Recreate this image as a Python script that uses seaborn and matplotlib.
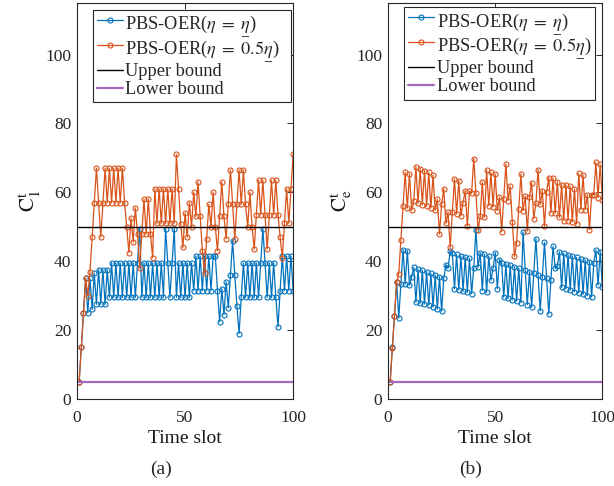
import numpy as np
import pandas as pd
import matplotlib
matplotlib.use("Agg")
import matplotlib.pyplot as plt
from matplotlib.font_manager import FontProperties
import seaborn as sns

# ---------------- data ----------------
time_slots = list(range(1, 101))

a_blue = [5, 15, 25, 35, 25, 35, 26, 36.5, 27.5, 37.5,
          27.5, 37.5, 27.5, 37.5, 29.5, 39.5, 29.5, 39.5, 29.5, 39.5,
          29.5, 39.5, 29.5, 39.5, 29.5, 39.5, 29.5, 39.5, 49.5, 29.5,
          39.5, 29.5, 39.5, 29.5, 39.5, 29.5, 39.5, 29.5, 39.5, 29.5,
          49.5, 39.5, 29.5, 39.5, 49.5, 29.5, 39.5, 29.5, 39.5, 29.5,
          39.5, 29.5, 39.5, 31.5, 41.5, 31.5, 41.5, 31.5, 41.5, 31.5,
          41.5, 31.5, 41.5, 41.5, 31.5, 22.5, 32, 24.5, 34, 26.5,
          36, 46, 36, 27, 19, 29.5, 39.5, 29.5, 39.5, 29.5,
          39.5, 29.5, 39.5, 29.5, 39.5, 49.5, 39.5, 29.5, 39.5, 29.5,
          39.5, 29.5, 21, 31.5, 41.5, 31.5, 41.5, 31.5, 41.5, 31.5]

a_orange = [5, 15, 25, 35, 30, 37, 47, 57, 67, 57,
            47, 57, 67, 57, 67, 57, 67, 57, 67, 57,
            67, 57, 50, 42.5, 52.5, 45.5, 55.5, 48, 38, 48,
            58, 48, 58, 48, 41, 61, 51, 61, 51, 61,
            51, 61, 51, 61, 51, 71, 61, 50.7, 44, 54,
            47, 57, 50, 60, 53, 63, 53, 43, 36.5, 46.5,
            56.5, 50, 60, 50, 43, 53, 63, 53, 46.5, 56.5,
            66.5, 56.5, 46.5, 56.5, 66.5, 56.5, 66.5, 56.5, 50, 60,
            50, 43.5, 53.5, 63.5, 53.5, 63.5, 53.5, 43.5, 53.5, 63.5,
            53.5, 63.5, 53.5, 47, 41, 51, 61, 51, 61, 71]

b_blue = [5, 15, 24, 34, 23.5, 33.5, 43.4, 33.4, 43, 33,
          35.5, 38.2, 28.1, 37.7, 27.8, 37.4, 27.6, 37, 27.2, 36.5,
          26.7, 36, 26.1, 35.5, 25.5, 35, 39, 38, 43, 42.5,
          32, 42, 31.7, 41.6, 31.3, 41.2, 31, 40.8, 30.6, 38,
          49.2, 38.3, 42.5, 31.5, 42, 31, 41.5, 34.5, 38, 42.5,
          32, 40.5, 39.5, 29.5, 39.3, 29.2, 38.9, 28.8, 38.4, 28.4,
          38, 28, 48.5, 37.5, 27.4, 37, 26.6, 36.5, 46.5, 36,
          25.6, 35.5, 45.5, 35, 24.7, 34.6, 44.3, 38, 38.5, 42.7,
          32.4, 42.3, 32, 41.9, 31.6, 41.5, 31.2, 41.1, 30.8, 40.7,
          30.4, 40.3, 30, 39.9, 29.6, 39.5, 43.2, 33, 42.8, 32.5]

b_orange = [5, 14.8, 24.2, 33.9, 36.4, 46.3, 56, 65.8, 55.4, 65.3,
            54.8, 57.4, 67.4, 56.8, 66.9, 56.4, 66.3, 55.9, 65.8, 55.4,
            65, 54.8, 58, 47.9, 56.5, 61, 51, 54.2, 44, 54.2,
            63.9, 53.7, 63.4, 53.2, 57, 60.5, 50.2, 60.3, 59.8, 69.8,
            59.8, 49, 53, 63, 52.8, 66.5, 56.1, 65.8, 55.8, 65.3,
            54.7, 58.6, 48.6, 58.2, 68.2, 57.6, 61.7, 51.4, 41.4, 45.4,
            55.3, 65.3, 54.7, 58.9, 48.8, 58.6, 62.8, 52.4, 56.8, 66.6,
            56.5, 60.5, 50.2, 60.1, 64.3, 54, 64.1, 54, 63.1, 52.7,
            62.2, 51.8, 62.2, 51.8, 61.7, 51.4, 61, 50.8, 65.5, 55,
            65, 55, 59.3, 49.2, 59.3, 59.3, 68.7, 58.5, 68.1, 57.8]

upper_bound = 50
lower_bound = 5
x_ticks = [0, 50, 100]
y_ticks = [0, 20, 40, 60, 80, 100]

series_labels = [r'PBS-OER($\eta\;=\;\underset{-}{\eta}$)',
                 r'PBS-OER($\eta\;=\;0.5\underset{-}{\eta}$)',
                 'Upper bound', 'Lower bound']
ylabels = [r'$\mathrm{C}_{1}^{\mathrm{t}}$', r'$\mathrm{C}_{\mathrm{e}}^{\mathrm{t}}$']
captions = ['(a)', '(b)']

# ---------------- style ----------------
sns.set_theme(style='white')
plt.rcParams['font.family'] = ['Liberation Serif', 'DejaVu Serif']
plt.rcParams['mathtext.fontset'] = 'stix'
plt.rcParams['xtick.direction'] = 'in'
plt.rcParams['ytick.direction'] = 'in'

BLUE = '#0072BD'
ORANGE = '#D95319'
PURPLE = '#A468BC'

fig = plt.figure(figsize=(6.14, 4.86), dpi=100)
ax_a = fig.add_axes([0.1254, 0.179, 0.352, 0.815])
ax_b = fig.add_axes([0.632, 0.179, 0.349, 0.815])

# legend boxes (x0, y0, w, h) in axes fraction
legend_boxes = [(0.074, 0.755, 0.915, 0.228), (0.075, 0.758, 0.893, 0.232)]
legend_font = FontProperties(family=['Liberation Serif', 'DejaVu Serif'], size=13.2)

panels = [(ax_a, a_blue, a_orange), (ax_b, b_blue, b_orange)]

for i, (ax, blue, orange) in enumerate(panels):
    df = pd.DataFrame({'t': time_slots, 'blue': blue, 'orange': orange})
    sns.lineplot(data=df, x='t', y='blue', ax=ax, color=BLUE, lw=0.9,
                 marker='o', ms=3.6, mfc='none', mec=BLUE, mew=0.8,
                 label=series_labels[0])
    sns.lineplot(data=df, x='t', y='orange', ax=ax, color=ORANGE, lw=0.9,
                 marker='o', ms=3.6, mfc='none', mec=ORANGE, mew=0.8,
                 label=series_labels[1])
    sns.lineplot(x=[0, 100], y=[upper_bound, upper_bound], ax=ax,
                 color='black', lw=1.0, label=series_labels[2])
    sns.lineplot(x=[time_slots[0], time_slots[-1]], y=[lower_bound, lower_bound],
                 ax=ax, color=PURPLE, lw=1.6, label=series_labels[3])

    ax.set_xlim(0, 100)
    ax.set_ylim(0, 115)
    ax.set_xticks(x_ticks)
    ax.set_yticks(y_ticks)
    ax.tick_params(axis='both', labelsize=12.5, length=4, width=0.7,
                   colors='#262626', top=True, right=True)
    ax.tick_params(axis='x', pad=8)
    ax.tick_params(axis='y', pad=4)
    for s in ax.spines.values():
        s.set_color('#262626')
        s.set_linewidth(0.8)
    ax.set_xlabel('Time slot', fontsize=14, color='#1a1a1a', labelpad=3)
    ax.set_ylabel(ylabels[i], fontsize=15, color='#1a1a1a', labelpad=2)

    leg = ax.legend(loc='upper left', bbox_to_anchor=legend_boxes[i],
                    mode='expand', prop=legend_font, frameon=True,
                    fancybox=False, edgecolor='#262626', framealpha=1,
                    handlelength=1.4, handletextpad=0.15, borderpad=0.22,
                    labelspacing=0.06, borderaxespad=0.0)
    leg.get_frame().set_linewidth(0.8)

fig.text(0.262, 0.035, captions[0], fontsize=14, ha='center', va='center')
fig.text(0.766, 0.035, captions[1], fontsize=14, ha='center', va='center')

fig.savefig('out.png', dpi=100)
